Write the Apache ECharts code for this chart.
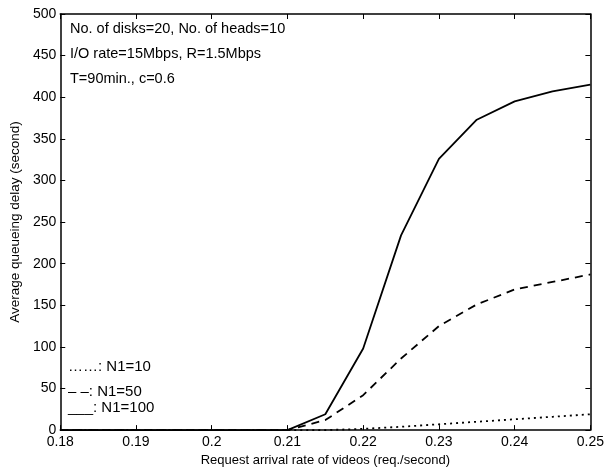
<!DOCTYPE html>
<html><head><meta charset="utf-8">
<script src="https://cdn.jsdelivr.net/npm/echarts@6/dist/echarts.min.js"></script>
<style>html,body{margin:0;padding:0;background:#fff}#c{width:607px;height:472px}</style>
</head><body><div id="c"></div>
<script>
const rates = [0.18,0.185,0.19,0.195,0.2,0.205,0.21,0.215,0.22,0.225,0.23,0.235,0.24,0.245,0.25];
const n1_10  = [0,0,0,0,0,0,0,0,1.5,4,7,10,13,16,19];
const n1_50  = [0,0,0,0,0,0,0,12,42,86,125,151,169,178,187];
const n1_100 = [0,0,0,0,0,0,0,19,98,234,326,373,395,407,415];
const xTicks = [0.18,0.19,0.2,0.21,0.22,0.23,0.24,0.25];
const yTicks = [0,50,100,150,200,250,300,350,400,450,500];
const notes = ['No. of disks=20, No. of heads=10','I/O rate=15Mbps, R=1.5Mbps','T=90min., c=0.6'];
const legendTexts = ['……: N1=10','– –: N1=50','___: N1=100'];

const pairs = a => rates.map((x,i)=>[x,a[i]]);
const F = '"Liberation Sans", Arial, sans-serif';
const chart = echarts.init(document.getElementById('c'));
const axX = (pos, show) => ({
  type:'value', position:pos, min:0.18, max:0.25, interval:0.01,
  axisLine:{show:true, onZero:false, lineStyle:{color:'#000', width:1.5}},
  axisTick:{show:true, inside:true, length:5, lineStyle:{color:'#000'}},
  axisLabel:{show:show, color:'#000', fontFamily:F, fontSize:14, margin:5,
    formatter:v=>String(+v.toFixed(2))},
  splitLine:{show:false}
});
const axY = (pos, show) => ({
  type:'value', position:pos, min:0, max:500, interval:50,
  axisLine:{show:true, lineStyle:{color:'#000', width:1.5}},
  axisTick:{show:true, inside:true, length:5, lineStyle:{color:'#000'}},
  axisLabel:{show:show, color:'#000', fontFamily:F, fontSize:14, margin:4},
  splitLine:{show:false}
});
const xa0 = axX('bottom', true);
xa0.name = 'Request arrival rate of videos (req./second)';
xa0.nameLocation = 'middle'; xa0.nameGap = 23;
xa0.nameTextStyle = {color:'#000', fontFamily:F, fontSize:13};
const ya0 = axY('left', true);
ya0.name = 'Average queueing delay (second)';
ya0.nameLocation = 'middle'; ya0.nameGap = 34;
ya0.nameTextStyle = {color:'#000', fontFamily:F, fontSize:13.5};

const lineS = (name, data, type) => ({
  name, type:'line', data:pairs(data), symbol:'none',
  lineStyle:{color:'#000', width:1.8, type:type}, animation:false
});

chart.setOption({
  animation:false,
  grid:{left:53, right:14, top:14, bottom:39},
  xAxis:[xa0, axX('top', false)],
  yAxis:[ya0, axY('right', false)],
  series:[
    lineS('N1=10', n1_10, [2,4]),
    lineS('N1=50', n1_50, [8,6]),
    lineS('N1=100', n1_100, 'solid')
  ],
  graphic: notes.map((t,i)=>({type:'text', left:70, top:[21,46,71][i],
      style:{text:t, font:'14.5px '+F, fill:'#000'}}))
    .concat(legendTexts.map((t,i)=>({type:'text', left:68, top:[359,384,400][i],
      style:{text:t, font:'15px '+F, fill:'#000'}})))
});
</script></body></html>
